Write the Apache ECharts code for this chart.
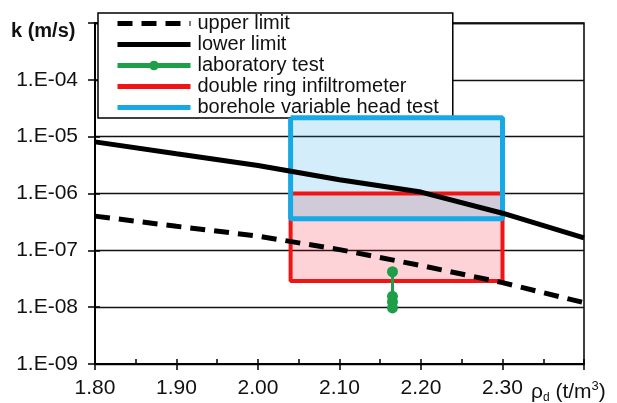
<!DOCTYPE html>
<html>
<head>
<meta charset="utf-8">
<script src="https://cdn.jsdelivr.net/npm/echarts@6/dist/echarts.min.js"></script>
<style>html,body{margin:0;padding:0;background:#fff}#c{width:617px;height:403px}</style>
</head>
<body>
<div id="c"></div>
<script>
// ---- data ----
const rho = [1.8, 1.9, 2.0, 2.1, 2.2, 2.3, 2.4];
const upperLimit = [4.0e-7, 2.65e-7, 1.78e-7, 1.03e-7, 5.4e-8, 2.7e-8, 1.2e-8];
const lowerLimit = [8.1e-6, 5.0e-6, 3.1e-6, 1.75e-6, 1.06e-6, 4.5e-7, 1.65e-7];
const labRho = [2.165, 2.165, 2.165, 2.165];
const labK = [4.2e-8, 1.55e-8, 1.25e-8, 9.7e-9];
const ringRho = [2.04, 2.30];
const ringK = [2.9e-8, 1.0e-6];
const boreRho = [2.04, 2.30];
const boreK = [3.6e-7, 2.15e-5];
const seriesNames = ['upper limit', 'lower limit', 'laboratory test', 'double ring infiltrometer', 'borehole variable head test'];

const FONT = '"Liberation Sans", Arial, sans-serif';
const zip = (a, b) => a.map((v, i) => [v, b[i]]);
const outline = (xs, ys) => [[xs[0], ys[1]], [xs[1], ys[1]], [xs[1], ys[0]], [xs[0], ys[0]], [xs[0], ys[1]]];
const area = (xs, ys) => [[{ coord: [xs[0], ys[1]] }, { coord: [xs[1], ys[0]] }]];

const chart = echarts.init(document.getElementById('c'), null, { renderer: 'canvas' });
const noSym = { color: 'rgba(0,0,0,0)', borderWidth: 0, opacity: 0 };

chart.setOption({
  animation: false,
  backgroundColor: '#fff',
  textStyle: { fontFamily: FONT },
  grid: { left: 95, right: 33, top: 23, bottom: 39, show: true, borderColor: '#000', borderWidth: 1.5, backgroundColor: 'transparent' },
  legend: {
    orient: 'vertical', left: 98, top: 13,
    padding: [0, 14, 0, 17],
    itemWidth: 73, itemHeight: 12, itemGap: 0,
    backgroundColor: '#fff', borderColor: '#000', borderWidth: 1.5,
    lineStyle: { width: 5 },
    textStyle: { fontSize: 20, color: '#111', fontFamily: FONT, lineHeight: 21, padding: [0, 0, 0, 2] },
    selectedMode: false,
    data: [
      { name: seriesNames[0], itemStyle: noSym },
      { name: seriesNames[1], itemStyle: noSym },
      { name: seriesNames[2] },
      { name: seriesNames[3], itemStyle: noSym },
      { name: seriesNames[4], itemStyle: noSym }
    ]
  },
  xAxis: [{
    type: 'value', min: 1.8, max: 2.4, interval: 0.1,
    axisLine: { show: true, lineStyle: { color: '#000', width: 2 } },
    axisTick: { show: true, inside: false, length: 6, lineStyle: { color: '#000', width: 1.5 } },
    axisLabel: { fontSize: 21, color: '#111', margin: 14, fontFamily: FONT,
      formatter: v => Math.abs(v - 2.4) < 1e-6 ? '' : v.toFixed(2) },
    splitLine: { show: false }
  }, {
    type: 'value', min: 1.8, max: 2.4, interval: 0.05, position: 'bottom',
    axisLine: { show: false },
    axisTick: { show: true, inside: true, length: 5, lineStyle: { color: '#000', width: 1.5 } },
    axisLabel: { show: false },
    splitLine: { show: false }
  }],
  yAxis: [{
    type: 'log', logBase: 10, min: 1e-9, max: 1e-3,
    axisLine: { show: true, lineStyle: { color: '#000', width: 2 } },
    axisTick: { show: true, inside: false, length: 7, lineStyle: { color: '#000', width: 1.5 } },
    axisLabel: { fontSize: 21, color: '#111', margin: 17, fontFamily: FONT,
      formatter: v => {
        const e = Math.round(Math.log10(v));
        if (e >= -3) return '';
        const n = -e;
        return '1.E-' + (n < 10 ? '0' + n : n);
      } },
    splitLine: { show: true, lineStyle: { color: '#111', width: 1.3 } }
  }, {
    type: 'log', logBase: 10, min: 1e-9, max: 1e-3, position: 'left',
    axisLine: { show: false },
    axisTick: { show: true, inside: true, length: 5, lineStyle: { color: '#000', width: 1.5 } },
    axisLabel: { show: false },
    splitLine: { show: false }
  }],
  series: [
    {
      name: seriesNames[3], type: 'line', data: outline(ringRho, ringK),
      symbol: 'none', z: 3,
      lineStyle: { color: '#f01414', width: 4 }, itemStyle: { color: '#f01414' },
      markArea: { silent: true, itemStyle: { color: 'rgba(245,20,40,0.19)' }, data: area(ringRho, ringK) }
    },
    {
      name: seriesNames[4], type: 'line', data: outline(boreRho, boreK),
      symbol: 'none', z: 4,
      lineStyle: { color: '#17a8e6', width: 5 }, itemStyle: { color: '#17a8e6' },
      markArea: { silent: true, itemStyle: { color: 'rgba(20,165,230,0.19)' }, data: area(boreRho, boreK) }
    },
    {
      name: seriesNames[0], type: 'line', data: zip(rho, upperLimit),
      symbol: 'none', z: 6,
      lineStyle: { color: '#000', width: 5, type: [15, 9] }, itemStyle: { color: '#000' }
    },
    {
      name: seriesNames[1], type: 'line', data: zip(rho, lowerLimit),
      symbol: 'none', z: 6,
      lineStyle: { color: '#000', width: 5 }, itemStyle: { color: '#000' }
    },
    {
      name: seriesNames[2], type: 'line', data: zip(labRho, labK),
      symbol: 'circle', symbolSize: 11, z: 7,
      lineStyle: { color: '#1e9e48', width: 3 }, itemStyle: { color: '#1e9e48' }
    }
  ],
  graphic: [
    { type: 'text', left: 11, top: 21, style: { text: 'k (m/s)', font: 'bold 20px ' + FONT, fill: '#111' } },
    { type: 'text', left: 531, top: 380, style: {
      text: '{a|ρ}{s|d}{a| (t/m}{p|3}{a|)}',
      rich: {
        a: { fontSize: 21, fontFamily: FONT, fill: '#111', lineHeight: 24, verticalAlign: 'middle' },
        s: { fontSize: 12, fontFamily: FONT, fill: '#111', lineHeight: 12, verticalAlign: 'bottom' },
        p: { fontSize: 13, fontFamily: FONT, fill: '#111', lineHeight: 12, verticalAlign: 'top' }
      }
    } }
  ]
});
</script>
</body>
</html>
